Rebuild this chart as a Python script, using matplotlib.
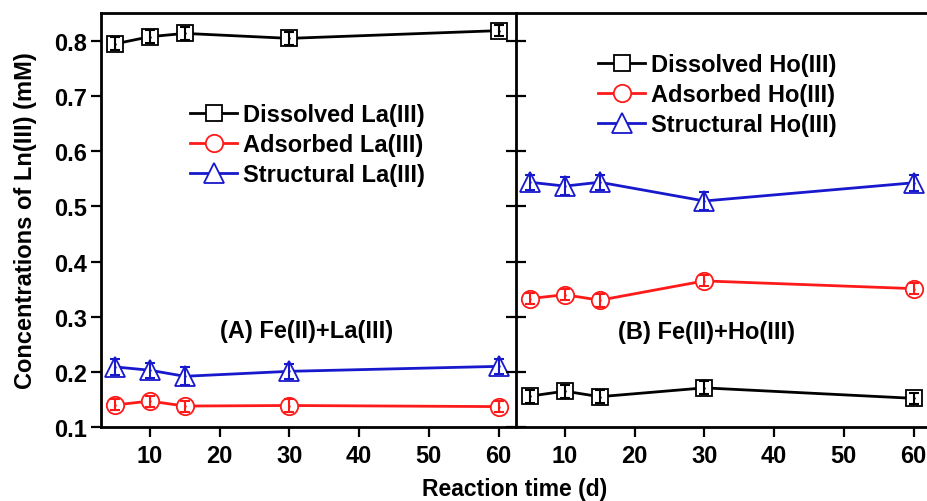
import numpy as np
import matplotlib
matplotlib.use("Agg")
import matplotlib.pyplot as plt

plt.rcParams['font.family'] = ['Liberation Sans', 'DejaVu Sans']
plt.rcParams['font.weight'] = 'bold'

days = [5, 10, 15, 30, 60]

# panel A: Fe(II)+La(III)
la_dissolved = [0.795, 0.808, 0.814, 0.805, 0.819]
la_dissolved_err = [0.012, 0.012, 0.012, 0.012, 0.010]
la_adsorbed = [0.140, 0.147, 0.138, 0.139, 0.137]
la_adsorbed_err = [0.010, 0.010, 0.010, 0.012, 0.010]
la_structural = [0.209, 0.203, 0.192, 0.201, 0.210]
la_structural_err = [0.014, 0.014, 0.016, 0.014, 0.014]

# panel B: Fe(II)+Ho(III)
ho_dissolved = [0.156, 0.165, 0.155, 0.171, 0.152]
ho_dissolved_err = [0.012, 0.012, 0.012, 0.012, 0.010]
ho_adsorbed = [0.333, 0.340, 0.330, 0.365, 0.351]
ho_adsorbed_err = [0.010, 0.010, 0.012, 0.010, 0.010]
ho_structural = [0.544, 0.537, 0.544, 0.510, 0.543]
ho_structural_err = [0.014, 0.016, 0.014, 0.016, 0.014]

BLACK, RED, BLUE = 'black', '#ff1a1a', '#1818cc'
FS = 17

fig = plt.figure(figsize=(9.28, 5.02), dpi=100)
axA = fig.add_axes([101/928, 1-428/502, 415/928, 414/502])
axB = fig.add_axes([516/928, 1-428/502, 415/928, 414/502])


def series(ax, y, err, color, marker, ms, label):
    ax.plot(days, y, color=color, lw=2.0, marker=marker, ms=ms, mfc='white',
            mec=color, mew=1.3, label=label, zorder=2)
    ax.errorbar(days, y, yerr=err, fmt='none', ecolor=color, elinewidth=1.5,
                capsize=3.5, capthick=1.5, zorder=3)
    ax.plot(days, y, ls='none', marker='.', ms=1.5, color=color, zorder=4)


series(axA, la_dissolved, la_dissolved_err, BLACK, 's', 11.5, 'Dissolved La(III)')
series(axA, la_adsorbed, la_adsorbed_err, RED, 'o', 12.5, 'Adsorbed La(III)')
series(axA, la_structural, la_structural_err, BLUE, '^', 15, 'Structural La(III)')

series(axB, ho_dissolved, ho_dissolved_err, BLACK, 's', 11.5, 'Dissolved Ho(III)')
series(axB, ho_adsorbed, ho_adsorbed_err, RED, 'o', 12.5, 'Adsorbed Ho(III)')
series(axB, ho_structural, ho_structural_err, BLUE, '^', 15, 'Structural Ho(III)')

for ax in (axA, axB):
    ax.set_xlim(3, 62.5)
    ax.set_ylim(0.1, 0.851)
    ax.set_xticks([10, 20, 30, 40, 50, 60])
    ax.set_yticks([0.1, 0.2, 0.3, 0.4, 0.5, 0.6, 0.7, 0.8])
    for s in ax.spines.values():
        s.set_linewidth(2.0)
    ax.tick_params(axis='x', direction='out', length=7, width=1.6,
                   labelsize=FS, pad=5)

axA.tick_params(axis='y', direction='out', length=7, width=1.6, labelsize=FS, pad=3)
axA.set_yticklabels(['0.1', '0.2', '0.3', '0.4', '0.5', '0.6', '0.7', '0.8'])
axA.spines['right'].set_visible(False)
axB.tick_params(axis='y', direction='inout', length=15, width=1.6, labelleft=False)
axB.spines['right'].set_visible(False)

axA.set_ylabel('Concentrations of Ln(III) (mM)', fontsize=FS, fontweight='bold', labelpad=12)
fig.text(515/928, 1-490/502, 'Reaction time (d)', ha='center', va='center',
         fontsize=16.5, fontweight='bold')

axA.text(307/928, 1-332/502, '(A) Fe(II)+La(III)', transform=fig.transFigure,
         ha='center', va='center', fontsize=FS, fontweight='bold')
axB.text(707/928, 1-333/502, '(B) Fe(II)+Ho(III)', transform=fig.transFigure,
         ha='center', va='center', fontsize=FS, fontweight='bold')

legA = axA.legend(loc='upper left', bbox_to_anchor=(190/928, 1-104/502),
                  bbox_transform=fig.transFigure, frameon=False, fontsize=FS,
                  handlelength=2.0, handletextpad=0.25, labelspacing=0.3,
                  borderpad=0, borderaxespad=0)
legB = axB.legend(loc='upper left', bbox_to_anchor=(598/928, 1-54/502),
                  bbox_transform=fig.transFigure, frameon=False, fontsize=FS,
                  handlelength=2.0, handletextpad=0.25, labelspacing=0.3,
                  borderpad=0, borderaxespad=0)
for leg in (legA, legB):
    for t in leg.get_texts():
        t.set_fontweight('bold')

fig.savefig('out.png', dpi=100)
